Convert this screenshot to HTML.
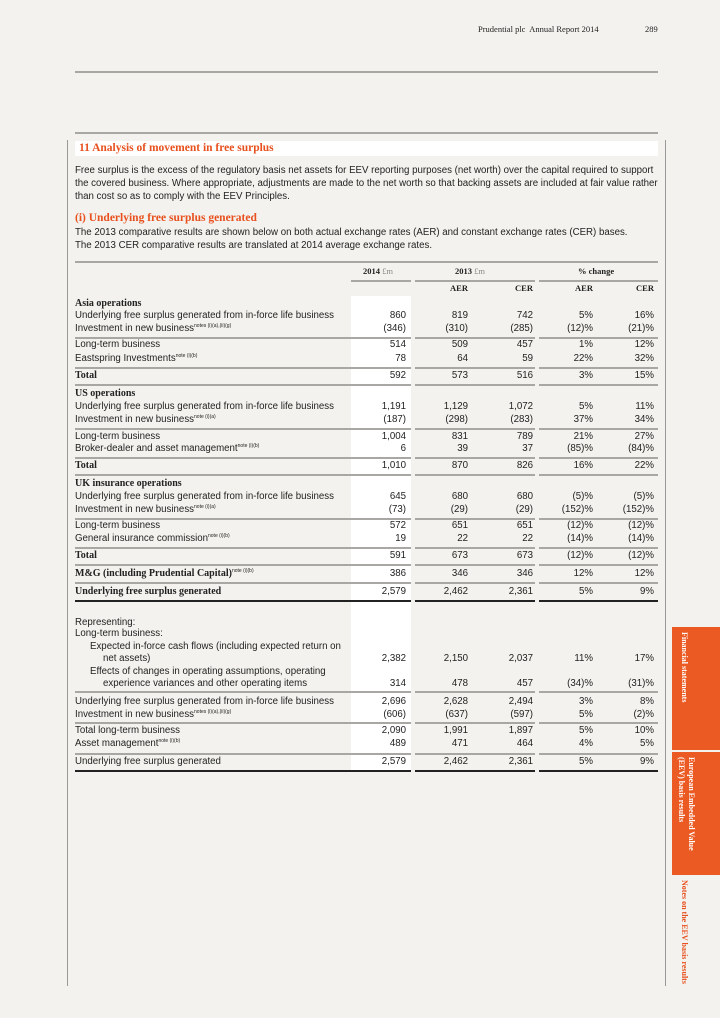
<!DOCTYPE html>
<html><head><meta charset="utf-8">
<style>
body{margin:0;width:720px;height:1018px;background:#f3f2ee;position:relative;overflow:hidden;font-family:"Liberation Sans",sans-serif;color:#222;}
.a{position:absolute;white-space:nowrap;}
.t{font-size:9.7px;line-height:14px;}
.serif{font-family:"Liberation Serif",serif;}
.b{font-family:"Liberation Serif",serif;font-weight:bold;font-size:10px;}
.r{text-align:right;}
.rule{position:absolute;height:1.5px;background:#a8a7a3;}
sup{font-size:5px;vertical-align:baseline;position:relative;top:-4px;line-height:0;font-family:"Liberation Sans",sans-serif;font-weight:normal;}
</style></head><body>
<div class="a serif" style="left:478px;top:24px;font-size:8.5px;">Prudential plc&nbsp; Annual Report 2014</div>
<div class="a serif" style="left:645px;top:24px;font-size:8.5px;">289</div>
<div class="rule" style="left:75px;width:583px;top:71px;"></div>
<div class="rule" style="left:75px;width:583px;top:132px;"></div>
<div class="a" style="left:67px;top:140px;width:1px;height:846px;background:#999;"></div>
<div class="a" style="left:665px;top:140px;width:1px;height:846px;background:#999;"></div>
<div class="a" style="left:75px;top:141px;width:583px;height:15px;background:#fff;"></div>
<div class="a serif" style="left:79px;top:141px;font-size:11.5px;font-weight:bold;color:#e8501e;line-height:15px;">11 Analysis of movement in free surplus</div>
<div class="a t" style="left:75px;top:164px;line-height:13.2px;">Free surplus is the excess of the regulatory basis net assets for EEV reporting purposes (net worth) over the capital required to support<br>the covered business. Where appropriate, adjustments are made to the net worth so that backing assets are included at fair value rather<br>than cost so as to comply with the EEV Principles.</div>
<div class="a serif" style="left:75px;top:212px;font-size:11.5px;font-weight:bold;color:#e8501e;">(i) Underlying free surplus generated</div>
<div class="a t" style="left:75px;top:226px;line-height:13.2px;">The 2013 comparative results are shown below on both actual exchange rates (AER) and constant exchange rates (CER) bases.<br>The 2013 CER comparative results are translated at 2014 average exchange rates.</div>
<div class="rule" style="left:75px;width:583px;top:261px;"></div>
<div class="a" style="left:351px;top:296px;width:60px;height:474px;background:#fff;"></div>
<div class="a serif" style="left:363px;top:266px;font-size:8.5px;"><b>2014</b> <span style="color:#888">£m</span></div>
<div class="a serif" style="left:455px;top:266px;font-size:8.5px;"><b>2013</b> <span style="color:#888">£m</span></div>
<div class="a serif" style="left:578px;top:266px;font-size:8.5px;font-weight:bold;">% change</div>
<div class="rule" style="left:351px;width:60px;top:280px;"></div>
<div class="rule" style="left:415px;width:120px;top:280px;"></div>
<div class="rule" style="left:539px;width:119px;top:280px;"></div>
<div class="a serif r" style="left:430px;width:38px;top:283px;font-size:8.5px;font-weight:bold;">AER</div>
<div class="a serif r" style="left:495px;width:38px;top:283px;font-size:8.5px;font-weight:bold;">CER</div>
<div class="a serif r" style="left:555px;width:38px;top:283px;font-size:8.5px;font-weight:bold;">AER</div>
<div class="a serif r" style="left:616px;width:38px;top:283px;font-size:8.5px;font-weight:bold;">CER</div>
<div id="tbl"></div>
<div class="a" style="left:672px;top:627px;width:48px;height:123px;background:#ec5a24;"></div>
<div class="a" style="left:672px;top:752px;width:48px;height:123px;background:#ec5a24;"></div>
<div class="a serif" style="left:680px;top:632px;writing-mode:vertical-rl;font-size:8px;font-weight:bold;color:#fff;">Financial statements</div>
<div class="a serif" style="left:676px;top:757px;writing-mode:vertical-rl;font-size:8px;font-weight:bold;color:#fff;line-height:10px;white-space:normal;height:110px;">European Embedded Value<br>(EEV) basis results</div>
<div class="a serif" style="left:680px;top:880px;writing-mode:vertical-rl;font-size:8px;font-weight:bold;color:#e8501e;">Notes on the EEV basis results</div>
<script>
const labels=[["Asia operations",1,0,""],["Underlying free surplus generated from in-force life business",0,0,""],["Investment in new business",0,0,"notes (i)(a),(ii)(g)"],["Long-term business",0,0,""],["Eastspring Investments",0,0,"note (i)(b)"],["Total",1,0,""],
["US operations",1,0,""],["Underlying free surplus generated from in-force life business",0,0,""],["Investment in new business",0,0,"note (i)(a)"],["Long-term business",0,0,""],["Broker-dealer and asset management",0,0,"note (i)(b)"],["Total",1,0,""],
["UK insurance operations",1,0,""],["Underlying free surplus generated from in-force life business",0,0,""],["Investment in new business",0,0,"note (i)(a)"],["Long-term business",0,0,""],["General insurance commission",0,0,"note (i)(b)"],["Total",1,0,""],
["M&G (including Prudential Capital)",1,0,"note (i)(b)"],["Underlying free surplus generated",1,0,""],
["Representing:",0,0,""],["Long-term business:",0,0,""],["Expected in-force cash flows (including expected return on",0,1,""],["net assets)",0,2,""],["Effects of changes in operating assumptions, operating",0,1,""],["experience variances and other operating items",0,2,""],
["Underlying free surplus generated from in-force life business",0,0,""],["Investment in new business",0,0,"notes (i)(a),(ii)(g)"],["Total long-term business",0,0,""],["Asset management",0,0,"note (i)(b)"],["Underlying free surplus generated",0,0,""]];
const v2014=["","860","(346)","514","78","592","","1,191","(187)","1,004","6","1,010","","645","(73)","572","19","591","386","2,579","","","","2,382","","314","2,696","(606)","2,090","489","2,579"];
const aer2013=["","819","(310)","509","64","573","","1,129","(298)","831","39","870","","680","(29)","651","22","673","346","2,462","","","","2,150","","478","2,628","(637)","1,991","471","2,462"];
const cer2013=["","742","(285)","457","59","516","","1,072","(283)","789","37","826","","680","(29)","651","22","673","346","2,361","","","","2,037","","457","2,494","(597)","1,897","464","2,361"];
const aerChg=["","5%","(12)%","1%","22%","3%","","5%","37%","21%","(85)%","16%","","(5)%","(152)%","(12)%","(14)%","(12)%","12%","5%","","","","11%","","(34)%","3%","5%","5%","4%","5%"];
const cerChg=["","16%","(21)%","12%","32%","15%","","11%","34%","27%","(84)%","22%","","(5)%","(152)%","(12)%","(14)%","(12)%","12%","9%","","","","17%","","(31)%","8%","(2)%","10%","5%","9%"];
const rowY=[304,316,329,345,359,376,394,407,420,437,449,466,484,497,510,526,539,556,574,592,623,634,647,659,672,684,702,715,731,744,762];
const ruleY=[337,367,384,428,457,474,518,547,564,582,691,722,753];
const darkY=[600,770];
const cols=[[362,44,v2014],[424,44,aer2013],[489,44,cer2013],[549,44,aerChg],[610,44,cerChg]];
const tbl=document.getElementById('tbl');
labels.forEach((l,i)=>{
  const d=document.createElement('div');
  d.className='a t'+(l[1]?' b':'');
  
  
  d.style.left=(75+[0,15,28][l[2]])+'px';d.style.top=(rowY[i]-7)+'px';
  d.innerHTML=l[0].replace('&','&amp;')+(l[3]?'<sup>'+l[3]+'</sup>':'');
  tbl.appendChild(d);
  cols.forEach(c=>{
    if(!c[2][i])return;
    const e=document.createElement('div');
    e.className='a t r';
    
    
    e.style.left=c[0]+'px';e.style.width=c[1]+'px';e.style.top=(rowY[i]-7)+'px';
    e.textContent=c[2][i];
    tbl.appendChild(e);
  });
});
function rule(y,dark){
  [[75,336],[415,120],[539,119]].forEach(s=>{
    const r=document.createElement('div');
    r.className='rule';
    
    
    r.style.left=s[0]+'px';r.style.width=s[1]+'px';r.style.top=y+'px';
    if(dark){r.style.background='#222';r.style.height='2px';}
    tbl.appendChild(r);
  });
}
ruleY.forEach(y=>rule(y,false));
darkY.forEach(y=>rule(y,true));
</script>
</body></html>
